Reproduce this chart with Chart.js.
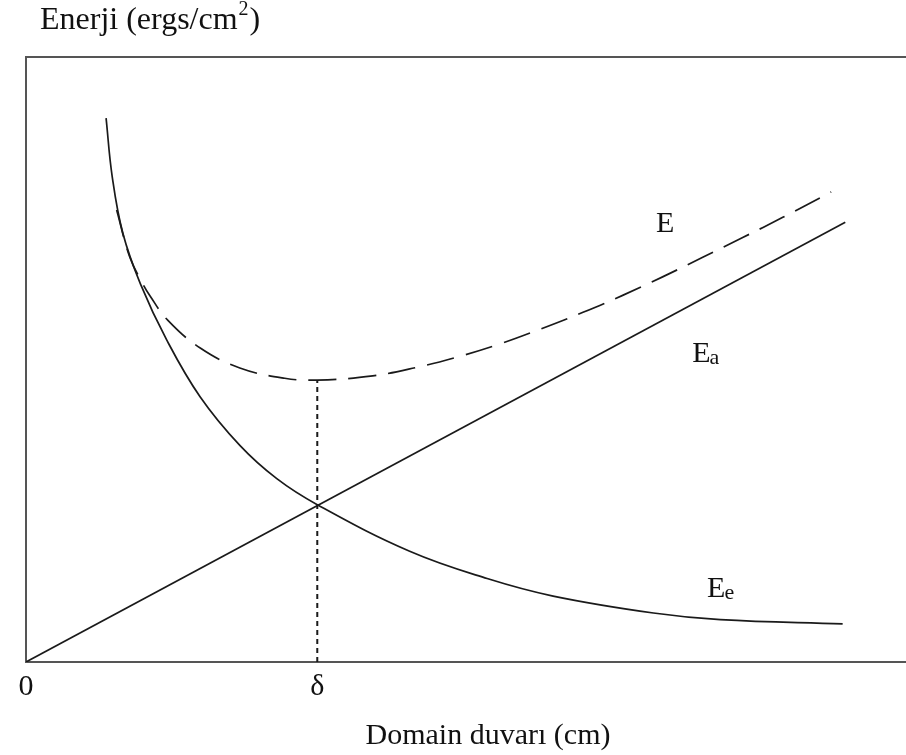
<!DOCTYPE html>
<html>
<head>
<meta charset="utf-8">
<script src="https://cdn.jsdelivr.net/npm/chart.js@4.4.1/dist/chart.umd.min.js"></script>
<style>
  html, body { margin: 0; padding: 0; background: #fff; overflow: hidden; }
  #wrap { width: 906px; height: 755px; }
</style>
</head>
<body>
<div id="wrap"><canvas id="chart"></canvas></div>
<script>
const delta = 3.31;

// Ee curve (exchange energy)
const eeX = [0.91, 0.98, 1.10, 1.30, 1.60, 1.98, 2.43, 2.85, 3.31, 4.36, 5.24, 5.99, 7.13, 7.89, 9.28];
const eeY = [8.99, 8.02, 7.09, 6.25, 5.32, 4.38, 3.58, 3.03, 2.60, 1.83, 1.38, 1.09, 0.81, 0.70, 0.63];

// Ea line (anisotropy energy)
const eaX = [0, 9.31];
const eaY = [0, 7.27];

// E total (dashed)
const eX = [1.03, 1.18, 1.32, 1.41, 1.61, 1.98, 2.43, 2.94, 3.31, 3.94, 4.44, 4.90, 5.39, 5.84, 6.33, 6.78, 7.24, 7.69, 8.15, 8.60, 9.15];
const eY = [7.47, 6.69, 6.27, 6.05, 5.65, 5.19, 4.86, 4.69, 4.66, 4.73, 4.87, 5.04, 5.26, 5.50, 5.78, 6.06, 6.37, 6.69, 7.02, 7.35, 7.77];

// dotted marker at the minimum
const dropX = [delta, delta];
const dropY = [0, 4.66];

const xTickValues = [0, delta];
const xTickLabels = ['0', 'δ'];

const FONT = '"Liberation Serif", "Times New Roman", serif';
const INK = '#1a1a1a';

const pts = (xs, ys) => xs.map((x, i) => ({ x: x, y: ys[i] }));

const labels = {
  id: 'labels',
  afterDatasetsDraw(chart) {
    const { ctx, scales: { x, y } } = chart;
    ctx.save();
    ctx.fillStyle = '#111';
    ctx.textBaseline = 'alphabetic';

    const sub = (main, s, xv, yv) => {
      const px = x.getPixelForValue(xv);
      const py = y.getPixelForValue(yv);
      ctx.font = '30px ' + FONT;
      ctx.textAlign = 'left';
      ctx.fillText(main, px, py);
      if (s) {
        const w = ctx.measureText(main).width;
        ctx.font = '22px ' + FONT;
        ctx.fillText(s, px + w - 1, py + 2);
      }
    };
    sub('E', '', 7.16, 7.10);
    sub('E', 'a', 7.57, 4.96);
    sub('E', 'e', 7.74, 1.08);

    // y axis title
    ctx.font = '32px ' + FONT;
    ctx.textAlign = 'left';
    const t = 'Enerji (ergs/cm';
    ctx.fillText(t, 40, 29);
    const w = ctx.measureText(t).width;
    ctx.font = '20px ' + FONT;
    ctx.fillText('2', 40 + w + 1, 15);
    const w2 = ctx.measureText('2').width;
    ctx.font = '32px ' + FONT;
    ctx.fillText(')', 40 + w + w2 + 2, 29);

    // x axis title
    ctx.font = '30px ' + FONT;
    ctx.textAlign = 'center';
    ctx.fillText('Domain duvarı (cm)', x.getPixelForValue(5.25), 744);
    ctx.restore();
  }
};

new Chart(document.getElementById('chart'), {
  type: 'line',
  data: {
    datasets: [
      {
        label: 'Ee',
        data: pts(eeX, eeY),
        borderColor: INK,
        borderWidth: 1.7,
        pointRadius: 0,
        tension: 0.4,
        fill: false
      },
      {
        label: 'Ea',
        data: pts(eaX, eaY),
        borderColor: INK,
        borderWidth: 1.7,
        pointRadius: 0,
        fill: false
      },
      {
        label: 'E',
        data: pts(eX, eY),
        borderColor: INK,
        borderWidth: 1.7,
        borderDash: [28, 12],
        pointRadius: 0,
        tension: 0.4,
        fill: false
      },
      {
        label: 'delta',
        data: pts(dropX, dropY),
        borderColor: INK,
        borderWidth: 2,
        borderDash: [5, 4],
        pointRadius: 0,
        fill: false
      }
    ]
  },
  options: {
    responsive: true,
    maintainAspectRatio: false,
    animation: false,
    layout: { padding: { left: 26, top: 57, right: 0, bottom: 43 } },
    plugins: {
      legend: { display: false },
      tooltip: { enabled: false }
    },
    scales: {
      x: {
        type: 'linear',
        min: 0,
        max: 10,
        grid: { display: false, drawTicks: false },
        border: { display: true, color: '#555', width: 2 },
        afterBuildTicks: axis => { axis.ticks = xTickValues.map(v => ({ value: v })); },
        ticks: {
          autoSkip: false,
          maxRotation: 0,
          padding: 7,
          color: '#111',
          font: { family: FONT, size: 30 },
          callback: (v, i) => xTickLabels[i]
        }
      },
      x2: {
        type: 'linear',
        position: 'top',
        min: 0,
        max: 10,
        grid: { display: false, drawTicks: false },
        ticks: { display: false },
        border: { display: true, color: '#555', width: 2 }
      },
      y: {
        type: 'linear',
        min: 0,
        max: 10,
        grid: { display: false, drawTicks: false },
        ticks: { display: false },
        border: { display: true, color: '#555', width: 2 }
      }
    }
  },
  plugins: [labels]
});
</script>
</body>
</html>
